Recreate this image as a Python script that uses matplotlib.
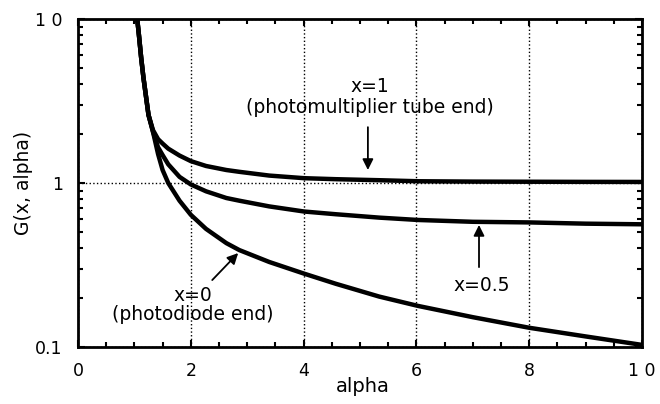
import matplotlib
matplotlib.use('Agg')
import matplotlib.pyplot as plt
from matplotlib.ticker import FixedLocator, LogLocator, NullFormatter

plt.rcParams['font.family'] = ['DejaVu Sans']

# values
alpha = [1.05, 1.08, 1.12, 1.16, 1.25, 1.33, 1.42, 1.5, 1.6, 1.8, 2.0, 2.27, 2.63, 2.86,
         3.39, 4.01, 4.57, 5.34, 6.03, 7.0, 8.0, 9.0, 10.0]
g_x1 = [10, 8.0, 5.8, 4.4, 2.6, 2.1, 1.85, 1.74, 1.62, 1.47, 1.36, 1.27, 1.20, 1.17,
        1.11, 1.07, 1.055, 1.04, 1.025, 1.02, 1.018, 1.016, 1.015]
g_x05 = [10, 8.0, 5.8, 4.4, 2.6, 2.05, 1.65, 1.48, 1.30, 1.09, 0.98, 0.89, 0.81, 0.78,
         0.72, 0.67, 0.645, 0.615, 0.595, 0.58, 0.575, 0.565, 0.56]
g_x0 = [10, 8.0, 5.8, 4.4, 2.6, 2.05, 1.5, 1.2, 1.0, 0.78, 0.64, 0.525, 0.43, 0.39,
        0.33, 0.28, 0.243, 0.203, 0.178, 0.152, 0.131, 0.116, 0.103]

xticks = [0, 2, 4, 6, 8, 10]
xtick_labels = ['0', '2', '4', '6', '8', '1 0']
yticks = [0.1, 1, 10]
ytick_labels = ['0.1', '1', '1 0']

fig = plt.figure(figsize=(6.6, 4.04), dpi=100)
ax = fig.add_axes([78 / 660, 1 - 347 / 404, 564 / 660, 328 / 404])

for g in (g_x1, g_x05, g_x0):
    ax.plot(alpha, g, color='black', lw=3.2, solid_joinstyle='round')

ax.set_yscale('log')
ax.set_xlim(0, 10)
ax.set_ylim(0.1, 10)

ax.xaxis.set_major_locator(FixedLocator(xticks))
ax.set_xticklabels(xtick_labels)
ax.xaxis.set_minor_locator(FixedLocator([i * 0.5 for i in range(21)]))
ax.yaxis.set_major_locator(FixedLocator(yticks))
ax.set_yticklabels(ytick_labels)
ax.yaxis.set_minor_locator(LogLocator(base=10, subs=range(2, 10)))
ax.yaxis.set_minor_formatter(NullFormatter())

ax.tick_params(which='both', direction='in', top=True, right=True, width=1.5, labelsize=12.5)
ax.tick_params(which='major', length=5)
ax.tick_params(which='minor', length=3.5)
ax.tick_params(axis='x', pad=11)
ax.tick_params(axis='y', pad=11)

for s in ax.spines.values():
    s.set_linewidth(2)

ax.grid(True, which='major', ls=':', color='black', lw=1)

ax.set_xlabel('alpha', fontsize=14)
ax.set_ylabel('G(x, alpha)', fontsize=13.5)
ax.xaxis.set_label_coords(0.505, -0.09)
ax.yaxis.set_label_coords(-0.08, 0.5)

arrow = dict(arrowstyle='-|>', color='black', lw=1.3, mutation_scale=16, shrinkA=0, shrinkB=0)
ax.annotate('', xy=(5.14, 1.20), xytext=(5.14, 2.19), arrowprops=arrow)
ax.annotate('', xy=(7.11, 0.555), xytext=(7.11, 0.307), arrowprops=arrow)
ax.annotate('', xy=(2.84, 0.374), xytext=(2.38, 0.256), arrowprops=arrow)

ax.text(5.18, 3.85, 'x=1', fontsize=13.5, ha='center', va='center')
ax.text(5.18, 2.87, '(photomultiplier tube end)', fontsize=13.5, ha='center', va='center')
ax.text(7.16, 0.236, 'x=0.5', fontsize=13.5, ha='center', va='center')
ax.text(2.04, 0.207, 'x=0', fontsize=13.5, ha='center', va='center')
ax.text(2.04, 0.157, '(photodiode end)', fontsize=13.5, ha='center', va='center')

fig.savefig('out.png', dpi=100)
